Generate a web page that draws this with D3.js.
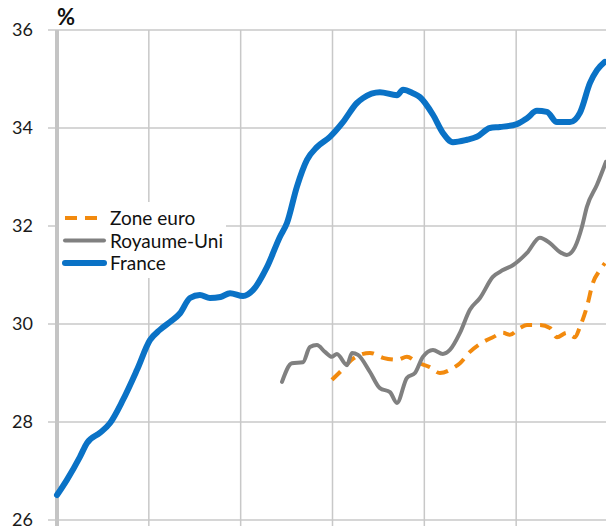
<!DOCTYPE html>
<html><head><meta charset="utf-8">
<script src="https://cdn.jsdelivr.net/npm/d3@7"></script>
<style>body{margin:0;background:#fff}svg{display:block}text{font-family:Lato,"Open Sans",sans-serif}</style>
</head><body>
<script>
// ---- data ----
const yTicks = [26, 28, 30, 32, 34, 36];
const xGridYears = [1985, 1990, 1995, 2000, 2005, 2010];
const seriesNames = ["Zone euro", "Royaume-Uni", "France"];

const franceDates = [1980.0,1980.54,1981.25,1981.63,1982.34,1982.89,1983.59,1984.35,1985.06,1985.6,1986.15,1986.7,1987.24,1987.78,1988.33,1988.9,1989.42,1990.13,1990.67,1991.43,1992.14,1992.52,1993.06,1993.61,1994.15,1994.86,1995.57,1996.33,1996.66,1997.58,1998.51,1998.84,1999.38,1999.76,2000.47,2001.01,2001.56,2002.32,2002.86,2003.57,2004.12,2005.04,2005.59,2006.13,2006.67,2007.22,2007.93,2008.47,2009.02,2009.4,2009.83];
const franceValues = [26.51,26.82,27.29,27.57,27.78,27.98,28.45,29.06,29.67,29.88,30.04,30.22,30.53,30.59,30.53,30.55,30.63,30.57,30.69,31.16,31.78,32.06,32.8,33.35,33.61,33.82,34.12,34.51,34.61,34.73,34.67,34.78,34.71,34.63,34.27,33.9,33.71,33.76,33.82,34.0,34.02,34.08,34.2,34.35,34.33,34.12,34.12,34.31,34.92,35.18,35.35];

const ukDates = [1992.25,1992.79,1993.39,1993.77,1994.15,1994.59,1994.97,1995.24,1995.79,1996.06,1996.39,1997.04,1997.58,1998.13,1998.51,1999.05,1999.49,1999.92,2000.47,2001.01,2001.39,2001.94,2002.48,2003.03,2003.73,2004.28,2004.82,2005.59,2006.29,2006.84,2007.38,2007.76,2008.2,2008.58,2008.85,2009.4,2009.89];
const ukValues = [28.82,29.2,29.22,29.53,29.57,29.43,29.33,29.39,29.16,29.41,29.37,29.02,28.69,28.61,28.39,28.9,29.0,29.33,29.47,29.39,29.47,29.82,30.29,30.53,30.96,31.1,31.2,31.45,31.76,31.65,31.47,31.41,31.57,31.98,32.39,32.84,33.31];

const euroDates = [1994.97,1995.41,1996.11,1997.04,1997.75,1998.51,1999.05,1999.6,2000.3,2000.85,2001.56,2001.94,2002.48,2003.19,2003.73,2004.28,2004.66,2005.2,2005.59,2006.29,2006.84,2007.22,2007.76,2008.2,2008.47,2008.85,2009.18,2009.56,2009.83];
const euroValues = [28.86,29.02,29.29,29.41,29.31,29.27,29.33,29.22,29.12,29.0,29.1,29.2,29.43,29.63,29.73,29.82,29.78,29.92,29.98,29.98,29.92,29.73,29.82,29.73,29.94,30.35,30.84,31.1,31.24];

// ---- drawing ----
const W = 606, H = 526;
const svg = d3.select("body").append("svg").attr("width", W).attr("height", H);
const x = d3.scaleLinear().domain([1980, 2010]).range([57, 608]);
const y = d3.scaleLinear().domain([26, 36]).range([520, 30]);

const grid = svg.append("g");
grid.selectAll("line.h").data(yTicks).join("line")
  .attr("x1", 48).attr("x2", W).attr("y1", d => y(d)).attr("y2", d => y(d))
  .attr("stroke", "#c8c8c8").attr("stroke-width", 1.5);
grid.selectAll("line.v").data(xGridYears).join("line")
  .attr("x1", d => x(d)).attr("x2", d => x(d)).attr("y1", 30).attr("y2", H)
  .attr("stroke", "#c8c8c8").attr("stroke-width", 1.5);
svg.append("line").attr("x1", 57).attr("x2", 57).attr("y1", 30).attr("y2", H)
  .attr("stroke", "#c4c4c4").attr("stroke-width", 4);

svg.append("g").selectAll("text").data(yTicks).join("text")
  .attr("x", 33).attr("y", d => y(d) + 6).attr("text-anchor", "end")
  .attr("font-size", 18).attr("fill", "#1a1a1a").text(d => d);
svg.append("text").attr("x", 57).attr("y", 25).attr("font-size", 22)
  .attr("font-weight", "bold").attr("fill", "#111").text("%");

const colors = {"Zone euro": "#F28A0E", "Royaume-Uni": "#808080", "France": "#0A72C6"};

// legend background
svg.append("rect").attr("x", 59).attr("y", 202).attr("width", 167).attr("height", 76).attr("fill", "#fff");

function mk(dates, vals) { return dates.map((d, i) => [d, vals[i]]); }
const lineSmooth = d3.line().x(d => x(d[0])).y(d => y(d[1])).curve(d3.curveMonotoneX);

svg.append("path").datum(mk(euroDates, euroValues)).attr("d", lineSmooth)
  .attr("fill", "none").attr("stroke", colors["Zone euro"]).attr("stroke-width", 4)
  .attr("stroke-dasharray", "12,8").attr("stroke-linejoin", "round");
svg.append("path").datum(mk(ukDates, ukValues)).attr("d", lineSmooth)
  .attr("fill", "none").attr("stroke", colors["Royaume-Uni"]).attr("stroke-width", 4)
  .attr("stroke-linejoin", "round").attr("stroke-linecap", "round");
svg.append("path").datum(mk(franceDates, franceValues)).attr("d", lineSmooth)
  .attr("fill", "none").attr("stroke", colors["France"]).attr("stroke-width", 6)
  .attr("stroke-linejoin", "round").attr("stroke-linecap", "round");

const leg = svg.append("g");
seriesNames.forEach((n, i) => {
  const ly = 218 + i * 22.5;
  leg.append("line").attr("x1", 65).attr("x2", 104).attr("y1", ly).attr("y2", ly)
    .attr("stroke", colors[n]).attr("stroke-width", n === "France" ? 6 : 4)
    .attr("stroke-linecap", n === "Zone euro" ? "butt" : "round")
    .attr("stroke-dasharray", n === "Zone euro" ? "12,8" : null);
  leg.append("text").attr("x", 110).attr("y", ly + 7).attr("font-size", 19)
    .attr("fill", "#111").text(n);
});
</script>
</body></html>
